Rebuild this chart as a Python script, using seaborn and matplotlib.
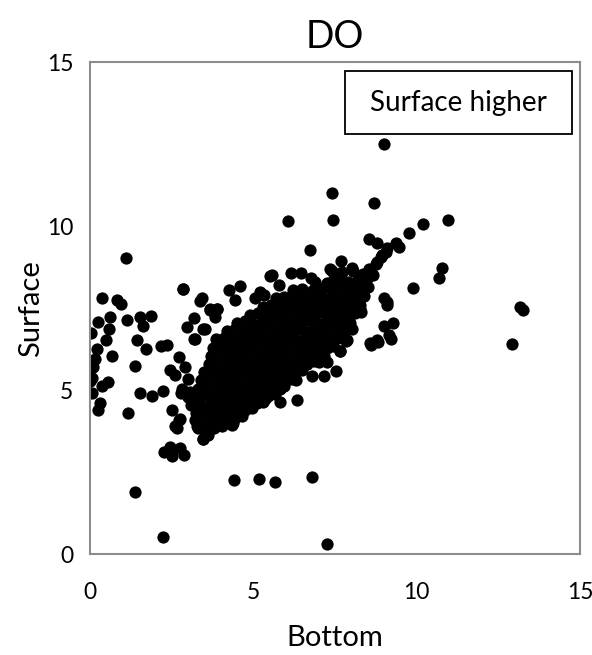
import matplotlib
matplotlib.use("Agg")
import matplotlib.pyplot as plt
from matplotlib.patches import Rectangle
import numpy as np
import pandas as pd
import seaborn as sns

# Dissolved oxygen: bottom vs surface readings
# Scattered readings away from the main cloud
bottom_sparse = [
    0.38, 0.82, 0.95, 0.61, 0.24, 1.14, 1.53, 1.87, 1.63, 0.03, 0.58, 0.48,
    1.43, 0.20, 1.71, 2.18, 2.35, 0.15, 0.10, 0.66, 1.38, 0.05, 0.00, 0.56,
    0.36, 0.07, 0.31, 0.24, 1.17, 1.53, 1.91, 2.22, 1.10, 2.84,
    2.25, 2.50, 2.76, 2.88, 2.45, 1.38, 2.23, 4.41, 5.18, 5.67, 6.79, 7.25,
    12.92, 13.15, 13.25,
    9.00, 7.40, 8.68, 6.05, 7.45, 10.95, 10.20, 9.75, 9.35, 9.45, 8.55, 8.78,
    6.74, 7.68, 8.03, 7.40, 10.76, 10.67, 9.88, 9.10, 9.08, 8.99, 9.27, 8.99,
    9.20, 8.80, 8.60, 9.14,
]
surface_sparse = [
    7.82, 7.75, 7.64, 7.24, 7.07, 7.13, 7.24, 7.26, 6.96, 6.75, 6.85, 6.54,
    6.54, 6.27, 6.26, 6.34, 6.39, 5.96, 5.71, 6.03, 5.73, 5.37, 5.27, 5.25,
    5.13, 4.91, 4.62, 4.40, 4.31, 4.91, 4.81, 4.96, 9.03, 8.10,
    3.11, 2.98, 3.23, 3.03, 3.28, 1.90, 0.51, 2.26, 2.28, 2.21, 2.35, 0.32,
    6.40, 7.55, 7.45,
    12.50, 11.00, 10.72, 10.16, 10.20, 10.20, 10.07, 9.80, 9.50, 9.38, 9.62, 9.48,
    9.27, 8.95, 8.73, 8.63, 8.73, 8.43, 8.12, 7.70, 7.59, 7.81, 7.04, 6.96,
    6.55, 6.48, 6.38, 6.68,
]

# Readings along the edges of the main cloud
bottom_edge = [
    2.71, 2.91, 3.01, 2.45, 2.60, 2.96, 3.22, 3.47, 3.68, 2.50, 2.76, 2.61,
    2.80, 3.00, 2.81, 3.06, 3.47, 3.27, 4.39, 2.66, 2.71, 5.82, 6.33, 6.79,
    7.15, 7.54, 7.00, 7.25, 7.64, 7.87, 4.90, 5.36, 3.17, 3.17, 3.52, 3.90,
    4.26, 4.58, 4.44, 5.19, 5.31, 5.06, 3.42, 3.68, 3.88, 3.83, 5.52, 5.57,
    6.15, 6.46, 6.76, 5.77, 7.46, 7.66, 9.09, 8.94, 8.77, 8.15, 8.35, 8.50,
    7.65, 7.82, 8.03, 8.29, 8.27, 8.58, 8.79, 7.36, 2.86, 3.37,
]
surface_edge = [
    6.02, 5.71, 5.35, 5.60, 5.45, 6.93, 6.57, 6.88, 7.44, 4.38, 4.13, 3.92,
    4.90, 4.80, 5.05, 4.94, 3.50, 3.90, 3.99, 3.84, 4.10, 4.64, 4.69, 5.43,
    5.43, 5.57, 5.86, 5.86, 6.19, 6.52, 4.52, 4.74, 7.19, 6.57, 6.88, 7.46,
    8.05, 8.18, 7.75, 7.98, 7.90, 7.82, 7.80, 7.49, 7.49, 7.24, 8.48, 8.50,
    8.56, 8.56, 8.43, 8.20, 8.38, 8.41, 9.33, 9.12, 8.92, 8.10, 8.30, 8.45,
    6.19, 6.50, 6.87, 7.38, 7.49, 6.44, 6.52, 8.69, 8.10, 7.72,
]

# Main cloud of readings
bottom_core = [
    3.45, 3.60,
    3.30, 3.55, 3.80, 4.05, 4.35,
    3.20, 3.45, 3.70, 3.95, 4.20, 4.45, 4.65,
    3.25, 3.50, 3.75, 4.00, 4.25, 4.50, 4.75, 4.95,
    3.10, 3.35, 3.60, 3.85, 4.10, 4.35, 4.60, 4.85, 5.10, 5.30,
    3.20, 3.45, 3.70, 3.95, 4.20, 4.45, 4.70, 4.95, 5.20, 5.45, 5.65,
    3.30, 3.55, 3.80, 4.05, 4.30, 4.55, 4.80, 5.05, 5.30, 5.55, 5.80, 5.95,
    3.40, 3.65, 3.90, 4.15, 4.40, 4.65, 4.90, 5.15, 5.40, 5.65, 5.90, 6.15, 6.30,
    3.50, 3.75, 4.00, 4.25, 4.50, 4.75, 5.00, 5.25, 5.50, 5.75, 6.00, 6.25, 6.50,
    3.65, 3.90, 4.15, 4.40, 4.65, 4.90, 5.15, 5.40, 5.65, 5.90, 6.15, 6.40, 6.65, 6.85,
    3.70, 3.95, 4.20, 4.45, 4.70, 4.95, 5.20, 5.45, 5.70, 5.95, 6.20, 6.45, 6.70, 6.95, 7.15,
    3.75, 4.00, 4.25, 4.50, 4.75, 5.00, 5.25, 5.50, 5.75, 6.00, 6.25, 6.50, 6.75, 7.00, 7.25, 7.45,
    3.85, 4.10, 4.35, 4.60, 4.85, 5.10, 5.35, 5.60, 5.85, 6.10, 6.35, 6.60, 6.85, 7.10, 7.35, 7.60,
    4.20, 4.45, 4.70, 4.95, 5.20, 5.45, 5.70, 5.95, 6.20, 6.45, 6.70, 6.95, 7.20, 7.45, 7.70, 7.85,
    4.50, 4.75, 5.00, 5.25, 5.50, 5.75, 6.00, 6.25, 6.50, 6.75, 7.00, 7.25, 7.50, 7.75, 7.95,
    4.90, 5.15, 5.40, 5.65, 5.90, 6.15, 6.40, 6.65, 6.90, 7.15, 7.40, 7.65, 7.90, 8.10,
    5.30, 5.55, 5.80, 6.05, 6.30, 6.55, 6.80, 7.05, 7.30, 7.55, 7.80, 8.05, 8.25,
    5.70, 5.95, 6.20, 6.45, 6.70, 6.95, 7.20, 7.45, 7.70, 7.95, 8.20, 8.40,
    6.20, 6.50, 6.80, 7.10, 7.40, 7.70, 8.00, 8.30, 8.50,
    6.90, 7.25, 7.60, 7.90, 8.20, 8.45, 8.65,
    7.70, 8.05, 8.35, 8.55, 8.75, 8.90, 9.05,
]
surface_core = [
    3.50, 3.62,
    3.85, 3.78, 3.85, 3.90, 3.95,
    4.10, 4.02, 4.08, 4.12, 4.05, 4.15, 4.20,
    4.30, 4.35, 4.28, 4.33, 4.37, 4.30, 4.40, 4.45,
    4.55, 4.60, 4.52, 4.58, 4.60, 4.55, 4.62, 4.57, 4.60, 4.65,
    4.80, 4.85, 4.78, 4.82, 4.85, 4.80, 4.86, 4.80, 4.85, 4.83, 4.88,
    5.05, 5.10, 5.02, 5.08, 5.05, 5.10, 5.04, 5.10, 5.06, 5.10, 5.05, 5.12,
    5.30, 5.35, 5.28, 5.32, 5.30, 5.35, 5.28, 5.33, 5.30, 5.35, 5.30, 5.35, 5.30,
    5.55, 5.60, 5.52, 5.58, 5.55, 5.60, 5.53, 5.58, 5.55, 5.60, 5.53, 5.58, 5.60,
    5.80, 5.85, 5.78, 5.83, 5.80, 5.85, 5.78, 5.83, 5.80, 5.85, 5.78, 5.83, 5.80, 5.88,
    6.05, 6.10, 6.03, 6.08, 6.05, 6.10, 6.03, 6.08, 6.05, 6.10, 6.03, 6.08, 6.05, 6.10, 6.05,
    6.30, 6.35, 6.28, 6.33, 6.30, 6.35, 6.28, 6.33, 6.30, 6.35, 6.28, 6.33, 6.30, 6.35, 6.30, 6.36,
    6.55, 6.60, 6.53, 6.58, 6.55, 6.60, 6.53, 6.58, 6.55, 6.60, 6.53, 6.58, 6.55, 6.60, 6.53, 6.58,
    6.80, 6.85, 6.78, 6.83, 6.80, 6.85, 6.78, 6.83, 6.80, 6.85, 6.78, 6.83, 6.80, 6.85, 6.80, 6.86,
    7.05, 7.10, 7.03, 7.08, 7.05, 7.10, 7.03, 7.08, 7.05, 7.10, 7.03, 7.08, 7.05, 7.10, 7.05,
    7.30, 7.35, 7.28, 7.33, 7.30, 7.35, 7.28, 7.33, 7.30, 7.35, 7.28, 7.33, 7.30, 7.35,
    7.55, 7.60, 7.53, 7.58, 7.55, 7.60, 7.53, 7.58, 7.55, 7.60, 7.53, 7.58, 7.60,
    7.80, 7.85, 7.78, 7.83, 7.80, 7.85, 7.78, 7.83, 7.80, 7.85, 7.80, 7.86,
    8.05, 8.10, 8.03, 8.08, 8.05, 8.10, 8.03, 8.10, 8.15,
    8.30, 8.28, 8.33, 8.30, 8.35, 8.35, 8.50,
    8.60, 8.62, 8.55, 8.70, 8.85, 9.05, 9.20,
]

x_ticks = [0, 5, 10, 15]
y_ticks = [0, 5, 10, 15]

df = pd.DataFrame({
    "Bottom": bottom_sparse + bottom_edge + bottom_core,
    "Surface": surface_sparse + surface_edge + surface_core,
})

sns.set_style("white")
plt.rcParams["font.family"] = ["Lato", "DejaVu Sans"]
plt.rcParams["text.color"] = "black"
plt.rcParams["axes.labelcolor"] = "black"

fig = plt.figure(figsize=(5.92, 6.55), dpi=100)
ax = fig.add_axes([0.152, 0.154, 0.828, 0.751])

sns.scatterplot(data=df, x="Bottom", y="Surface", color="black", s=78,
                linewidth=0, ax=ax, legend=False)

ax.set_xlim(0, 15)
ax.set_ylim(0, 15)
ax.set_xticks(x_ticks)
ax.set_yticks(y_ticks)
ax.set_xticklabels([str(t) for t in x_ticks])
ax.set_yticklabels([str(t) for t in y_ticks])

spine_grey = "#8c8c8c"
for side in ["left", "right", "top", "bottom"]:
    ax.spines[side].set_visible(True)
    ax.spines[side].set_color(spine_grey)
    ax.spines[side].set_linewidth(1.5)

ax.tick_params(axis="both", which="major", direction="out", length=6,
               width=1.5, color=spine_grey, labelsize=16.5, labelcolor="black")
ax.tick_params(axis="x", pad=14)
ax.tick_params(axis="y", pad=6)

ax.set_xlabel("Bottom", fontsize=21, labelpad=16, color="black")
ax.set_ylabel("Surface", fontsize=21, labelpad=2, color="black")
ax.set_title("DO", fontsize=27, pad=10, color="black")

# Annotation box in the upper right
ax.add_patch(Rectangle((0.52, 0.854), 0.464, 0.128, transform=ax.transAxes,
                       facecolor="white", edgecolor="black", linewidth=1.3,
                       zorder=5))
ax.text(0.752, 0.918, "Surface higher", transform=ax.transAxes,
        ha="center", va="center", fontsize=20, color="black", zorder=6)

fig.savefig("out.png", dpi=100)
